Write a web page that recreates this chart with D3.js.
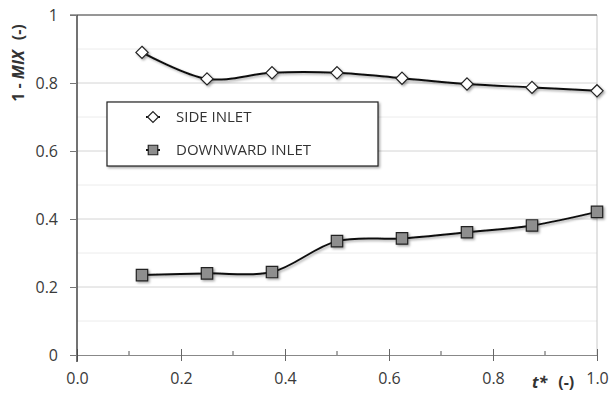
<!DOCTYPE html>
<html>
<head>
<meta charset="utf-8">
<script src="https://cdn.jsdelivr.net/npm/d3@7"></script>
<style>
  html, body { margin: 0; padding: 0; background: #fff; }
  svg { display: block; font-family: "Open Sans", "Liberation Sans", sans-serif; }
</style>
</head>
<body>
<svg id="chart" width="612" height="396"></svg>
<script>
// Dimensionless time t* at which the mixing index was sampled
const tStar = [0.125, 0.25, 0.375, 0.5, 0.625, 0.75, 0.875, 1.0];
// 1 - MIX for each inlet configuration
const sideInlet = [0.890, 0.812, 0.830, 0.830, 0.814, 0.797, 0.787, 0.777];
const downwardInlet = [0.235, 0.240, 0.244, 0.335, 0.343, 0.361, 0.381, 0.421];
const seriesNames = ["SIDE INLET", "DOWNWARD INLET"];
const xTickLabels = ["0.0", "0.2", "0.4", "0.6", "0.8", "1.0"];
const yTickLabels = ["0", "0.2", "0.4", "0.6", "0.8", "1"];

const svg = d3.select("#chart");
const margin = { left: 77, right: 15, top: 15, bottom: 41 };
const W = 612, H = 396;

const x = d3.scaleLinear().domain([0, 1]).range([margin.left, W - margin.right]);
const y = d3.scaleLinear().domain([0, 1]).range([H - margin.bottom, margin.top]);

const defs = svg.append("defs");
const shadow = defs.append("filter").attr("id", "shadow")
  .attr("x", "-20%").attr("y", "-20%").attr("width", "140%").attr("height", "140%");
shadow.append("feDropShadow").attr("dx", 1.5).attr("dy", 1.5)
  .attr("stdDeviation", 1).attr("flood-color", "#000").attr("flood-opacity", 0.35);

// Horizontal gridlines every 0.1, the 0.2 steps a bit darker
const gridVals = d3.range(1, 11).map(d => d / 10);
svg.append("g").selectAll("line").data(gridVals).join("line")
  .attr("x1", x(0)).attr("x2", x(1))
  .attr("y1", d => y(d)).attr("y2", d => y(d))
  .attr("stroke", (d, i) => (i % 2 === 1 ? "#d4d4d4" : "#ececec"))
  .attr("stroke-width", 1);

// Right border of the plot area
svg.append("line")
  .attr("x1", x(1)).attr("x2", x(1)).attr("y1", y(1)).attr("y2", y(0))
  .attr("stroke", "#c8c8c8").attr("stroke-width", 1);

// Top edge
svg.append("line")
  .attr("x1", x(0) - 7).attr("x2", x(1)).attr("y1", y(1)).attr("y2", y(1))
  .attr("stroke", "#444").attr("stroke-width", 1.2);

// X axis
const xAxis = d3.axisBottom(x)
  .tickValues(xTickLabels.map(Number))
  .tickFormat((d, i) => xTickLabels[i])
  .tickSizeInner(6).tickSizeOuter(0).tickPadding(12);
const gx = svg.append("g").attr("transform", `translate(0,${y(0)})`).call(xAxis);
gx.select(".domain").attr("stroke", "#888").attr("stroke-width", 1.2);
gx.selectAll(".tick line").attr("y1", -6).attr("stroke", "#666");
gx.selectAll(".tick text").attr("font-size", 16).attr("fill", "#3a3a3a")
  .attr("font-family", "'Open Sans', sans-serif");
// minor ticks at odd tenths
svg.append("g").selectAll("line").data([0.1, 0.3, 0.5, 0.7, 0.9]).join("line")
  .attr("x1", d => x(d)).attr("x2", d => x(d))
  .attr("y1", y(0)).attr("y2", y(0) - 4)
  .attr("stroke", "#555").attr("stroke-width", 1);

// Y axis
const yAxis = d3.axisLeft(y)
  .tickValues(yTickLabels.map(Number))
  .tickFormat((d, i) => yTickLabels[i])
  .tickSizeInner(7).tickSizeOuter(0).tickPadding(12);
const gy = svg.append("g").attr("transform", `translate(${x(0)},0)`).call(yAxis);
gy.select(".domain").attr("stroke", "#444").attr("stroke-width", 1.5)
  .attr("d", `M0,${y(1)}V${y(0) + 7}`);
gy.selectAll(".tick line").attr("stroke", "#777");
gy.selectAll(".tick text").attr("font-size", 16).attr("fill", "#3a3a3a")
  .attr("font-family", "'Open Sans', sans-serif");

// Axis titles
const yTitle = svg.append("text")
  .attr("transform", `translate(24,63) rotate(-90)`)
  .attr("text-anchor", "middle")
  .attr("font-size", 16).attr("font-weight", "bold").attr("fill", "#333");
yTitle.append("tspan").text("1 - ");
yTitle.append("tspan").attr("font-style", "italic").text("MIX");
yTitle.append("tspan").attr("dx", 10).text("(-)");

const xTitle = svg.append("text")
  .attr("x", x(0.875)).attr("y", 388)
  .attr("font-size", 16).attr("font-weight", "bold").attr("fill", "#333");
xTitle.append("tspan").attr("font-style", "italic").text("t*");
xTitle.append("tspan").attr("dx", 11).text("(-)");

// Series
const series = [
  { name: seriesNames[0], values: sideInlet, shape: "diamond", fill: "#ffffff" },
  { name: seriesNames[1], values: downwardInlet, shape: "square", fill: "#8e8e8e" }
];

const line = d3.line()
  .x(d => x(d[0])).y(d => y(d[1]))
  .curve(d3.curveCatmullRom.alpha(0.5));

const symbolPath = {
  diamond: d3.symbol().type(d3.symbolDiamond2).size(95)(),
  square: d3.symbol().type(d3.symbolSquare).size(130)()
};

const plot = svg.append("g").attr("filter", "url(#shadow)");
series.forEach(s => {
  const pts = tStar.map((t, i) => [t, s.values[i]]);
  plot.append("path").datum(pts)
    .attr("d", line).attr("fill", "none")
    .attr("stroke", "#111").attr("stroke-width", 2);
  plot.append("g").selectAll("path").data(pts).join("path")
    .attr("d", symbolPath[s.shape])
    .attr("transform", d => `translate(${x(d[0])},${y(d[1])})`)
    .attr("fill", s.fill).attr("stroke", "#222").attr("stroke-width", 1.2);
});

// Legend
const legendSymbol = {
  diamond: d3.symbol().type(d3.symbolDiamond2).size(75)(),
  square: d3.symbol().type(d3.symbolSquare).size(90)()
};
const legend = svg.append("g").attr("transform", "translate(107,102)");
legend.append("rect").attr("width", 271).attr("height", 64)
  .attr("fill", "#fff").attr("stroke", "#222").attr("stroke-width", 1.2)
  .attr("filter", "url(#shadow)");
series.forEach((s, i) => {
  const g = legend.append("g").attr("transform", `translate(46,${15 + i * 33})`);
  g.append("line").attr("x1", -7).attr("x2", 7).attr("stroke", "#111").attr("stroke-width", 2);
  g.append("path").attr("d", legendSymbol[s.shape])
    .attr("fill", s.fill).attr("stroke", "#222").attr("stroke-width", 1.2);
  g.append("text").attr("x", 23).attr("dy", "0.36em")
    .attr("font-size", 15).attr("fill", "#333").text(s.name);
});
</script>
</body>
</html>
